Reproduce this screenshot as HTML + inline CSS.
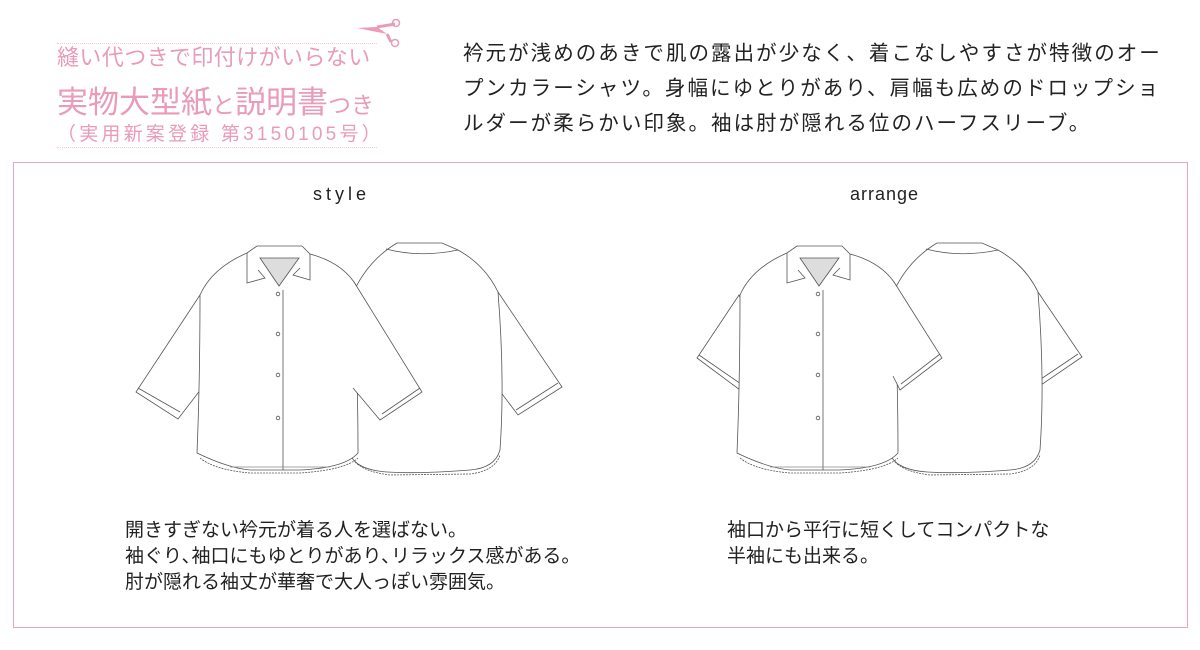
<!DOCTYPE html>
<html><head><meta charset="utf-8"><style>
body{margin:0;width:1200px;height:650px;background:#fff;position:relative;overflow:hidden;font-family:"Liberation Sans","Noto Sans CJK JP",sans-serif;color:#222}
.t{position:absolute;white-space:nowrap}
</style></head><body>
<div class="t" style="left:57px;top:40px;font-size:22px;color:#e99bb8;letter-spacing:0.4px">縫い代つきで印付けがいらない</div>
<div class="t" style="left:57px;top:77px;font-size:31px;color:#e99bb8;letter-spacing:0px">実物大型紙<span style="font-size:23px">と</span>説明書<span style="font-size:23px">つき</span></div>
<div class="t" style="left:57px;top:119px;font-size:19px;color:#e99bb8;letter-spacing:3.2px">（実用新案登録 第3150105号）</div>
<div style="position:absolute;left:57px;top:43px;width:320px;border-top:1px dotted #f3c9d8"></div>
<div style="position:absolute;left:57px;top:147px;width:320px;border-top:1px dotted #f3c9d8"></div>
<svg style="position:absolute;left:355px;top:18px" width="50" height="30"><path d="M2 10 L22 9 L32 16 Z" fill="#e99bb8"/><path d="M22 9 L40 6 M32 16 L36 24" stroke="#e99bb8" stroke-width="3"/><circle cx="41" cy="5" r="3.5" fill="none" stroke="#e99bb8" stroke-width="1.5"/><circle cx="40" cy="25" r="3.5" fill="none" stroke="#e99bb8" stroke-width="1.5"/></svg>
<div class="t" style="left:463px;top:36px;font-size:20.5px;line-height:35px;letter-spacing:2.05px">衿元が浅めのあきで肌の露出が少なく、着こなしやすさが特徴のオー<br>プンカラーシャツ。身幅にゆとりがあり、肩幅も広めのドロップショ<br>ルダーが柔らかい印象。袖は肘が隠れる位のハーフスリーブ。</div>
<div style="position:absolute;left:13px;top:162px;width:1173px;height:464px;border:1.5px solid #eea3c0"></div>
<div class="t" style="left:313px;top:184px;font-size:18px;letter-spacing:4px">style</div>
<div class="t" style="left:850px;top:184px;font-size:18px;letter-spacing:1px">arrange</div>
<div class="t" style="left:125px;top:518px;font-size:19px;line-height:26px">開きすぎない衿元が着る人を選ばない。<br>袖ぐり､袖口にもゆとりがあり､リラックス感がある。<br>肘が隠れる袖丈が華奢で大人っぽい雰囲気。</div>
<div class="t" style="left:727px;top:518px;font-size:19px;line-height:26px">袖口から平行に短くしてコンパクトな<br>半袖にも出来る。</div>
<svg style="position:absolute;left:0;top:0" width="1200" height="650">
<defs>
<g id="body" fill="#fff" stroke="#555" stroke-width="0.8">
 <path d="M397 243 L442 243 L458 250 Q485 265 498 292 Q505 380 500 450 Q495 468 470 470 Q420 474 387 472 Q360 470 352 458 L350 300 Q365 262 397 243 Z"/>
 <path d="M386 249 Q420 258 458 250" fill="none"/>
 <path d="M355 462 Q365 472 390 475 L470 474 Q495 471 500 455" fill="none" stroke-dasharray="2 1"/>
 <path d="M257 246 L302 246 L310 254 Q340 262 354 282 Q365 300 356 340 Q358 400 358 453 Q345 468 300 470 L250 470 Q228 468 197 453 Q200 380 200 295 Q212 268 247 253 Z"/>
 <path d="M247 253 L247 283 L265 278 L258 270" fill="none"/>
 <path d="M310 254 L310 280 L293 275 L300 268" fill="none"/>
 <path d="M260 258 L299 258 L279 286 Z" fill="#ddd"/>
 <path d="M283 290 L283 470" fill="none"/>
 <path d="M200 458 Q215 470 250 473 L300 473 Q345 470 358 458" fill="none" stroke-dasharray="2 1"/>
 <path d="M230 467 L330 467" stroke="#888" fill="none"/>
 <circle cx="278" cy="294" r="1.8"/><circle cx="278" cy="334" r="1.8"/><circle cx="278" cy="375" r="1.8"/><circle cx="278" cy="418" r="1.8"/>
</g>
</defs>
<g fill="#fff" stroke="#555" stroke-width="0.8">
 <path d="M200 295 L136 392 L178 419 L208 380 Q215 340 200 295 Z"/>
 <path d="M138 388 L180 412" fill="none"/>
 <path d="M498 292 L562 387 L518 415 L490 378 Q485 330 498 292 Z"/>
 <path d="M558 383 L516 410" fill="none"/>
</g>
<use href="#body"/>
<g fill="#fff" stroke="#555" stroke-width="0.8">
 <path d="M354 282 L422 392 L380 420 L353 388" />
 <path d="M420 388 L382 414" fill="none"/>
</g>
<g transform="translate(540,0)">
<g fill="#fff" stroke="#555" stroke-width="0.8">
 <path d="M199 295 L157 358 L200 390 L210 366 Q214 330 199 295 Z"/>
 <path d="M159 355 L201 384" fill="none"/>
 <path d="M498 292 L542 357 L498 387 L490 362 Q486 325 498 292 Z"/>
 <path d="M538 354 L498 381" fill="none"/>
</g>
<use href="#body"/>
<g fill="#fff" stroke="#555" stroke-width="0.8">
 <path d="M354 282 L402 358 L360 390 L353 376"/>
 <path d="M400 354 L361 384" fill="none"/>
</g>
</g>
</svg>
</body></html>
